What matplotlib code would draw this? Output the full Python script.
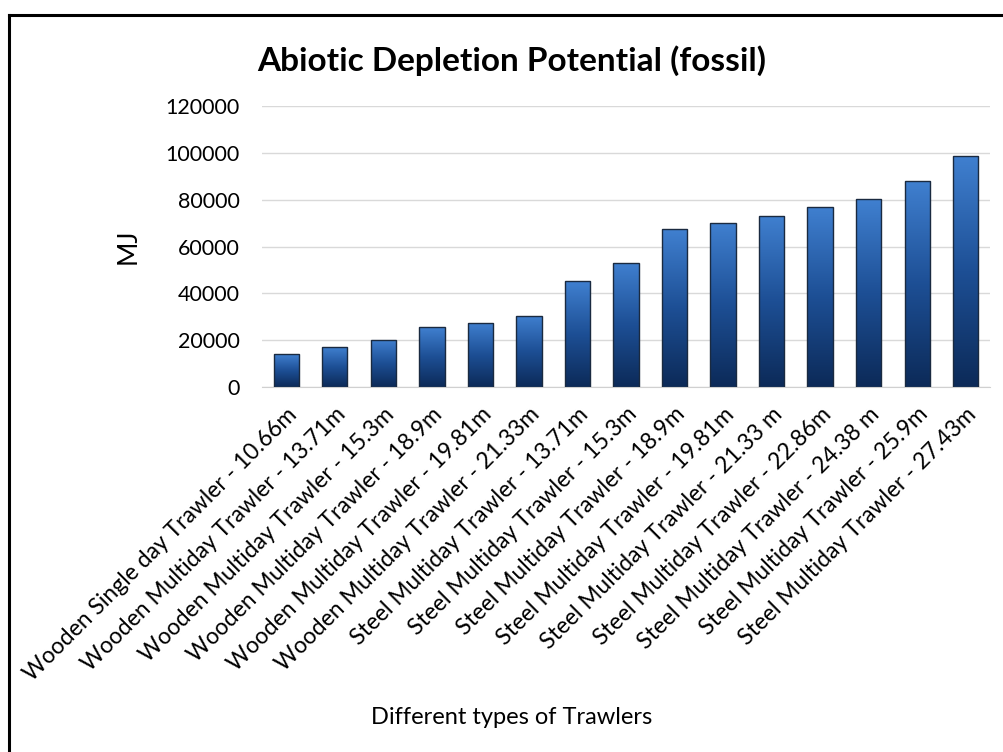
import matplotlib
matplotlib.use("Agg")
import matplotlib.pyplot as plt
import numpy as np
from matplotlib.colors import LinearSegmentedColormap
from matplotlib.lines import Line2D

# data
trawlers = [
    "Wooden Single day Trawler - 10.66m",
    "Wooden Multiday Trawler - 13.71m",
    "Wooden Multiday Trawler - 15.3m",
    "Wooden Multiday Trawler - 18.9m",
    "Wooden Multiday Trawler - 19.81m",
    "Wooden Multiday Trawler - 21.33m",
    "Steel Multiday Trawler - 13.71m",
    "Steel Multiday Trawler - 15.3m",
    "Steel Multiday Trawler - 18.9m",
    "Steel Multiday Trawler - 19.81m",
    "Steel Multiday Trawler - 21.33 m",
    "Steel Multiday Trawler - 22.86m",
    "Steel Multiday Trawler - 24.38 m",
    "Steel Multiday Trawler - 25.9m",
    "Steel Multiday Trawler - 27.43m",
]
adp_fossil = [14000, 16900, 20100, 25500, 27400, 30500, 45200, 53000,
              67300, 70100, 73100, 77000, 80100, 88000, 98800]
yticks = [0, 20000, 40000, 60000, 80000, 100000, 120000]

plt.rcParams["font.family"] = ["Lato", "DejaVu Sans"]

fig = plt.figure(figsize=(10.04, 7.52), dpi=100)
ax = fig.add_axes([0.261, 0.4854, 0.725, 0.3736])

# blue gradient, light at top and dark at bottom
cmap = LinearSegmentedColormap.from_list("bars", ["#0c2a58", "#1d4f95", "#4080d0"])
grad = np.linspace(0, 1, 256).reshape(-1, 1)

x = np.arange(len(trawlers))
bars = ax.bar(x, adp_fossil, width=0.52, color="none", edgecolor="#1a2a40",
              linewidth=1.0, zorder=3)
for b in bars:
    x0, y0 = b.get_x(), b.get_y()
    w, h = b.get_width(), b.get_height()
    im = ax.imshow(grad, cmap=cmap, origin="lower", aspect="auto",
                   extent=[x0, x0 + w, y0, y0 + h], zorder=2)
    im.set_clip_path(b)

ax.set_xlim(-0.5, len(trawlers) - 0.5)
ax.set_ylim(0, 120000)
ax.set_yticks(yticks)
ax.set_yticklabels([str(v) for v in yticks], fontsize=15.5)
ax.set_xticks(x)
ax.set_xticklabels(trawlers, rotation=45, ha="right", rotation_mode="anchor",
                   fontsize=16.5)
ax.tick_params(axis="y", length=0, pad=16)
ax.tick_params(axis="x", length=0, pad=12)
ax.grid(axis="y", color="#d9d9d9", linewidth=1.0, zorder=0)
for s in ["top", "right", "left"]:
    ax.spines[s].set_visible(False)
ax.spines["bottom"].set_color("#d0d0d0")

ax.set_ylabel("MJ", fontsize=19, labelpad=18)
fig.text(0.51, 0.92, "Abiotic Depletion Potential (fossil)", ha="center",
         va="center", fontsize=24, fontweight="bold")
fig.text(0.51, 0.046, "Different types of Trawlers", ha="center",
         va="center", fontsize=17)

# border round the chart (top and left only, as in the picture)
fig.add_artist(Line2D([0.009, 1.0], [1 - 15 / 752, 1 - 15 / 752],
                      color="black", linewidth=2.2))
fig.add_artist(Line2D([0.009, 0.009], [0.0, 1 - 15 / 752],
                      color="black", linewidth=2.2))

fig.savefig("out.png", dpi=100)
